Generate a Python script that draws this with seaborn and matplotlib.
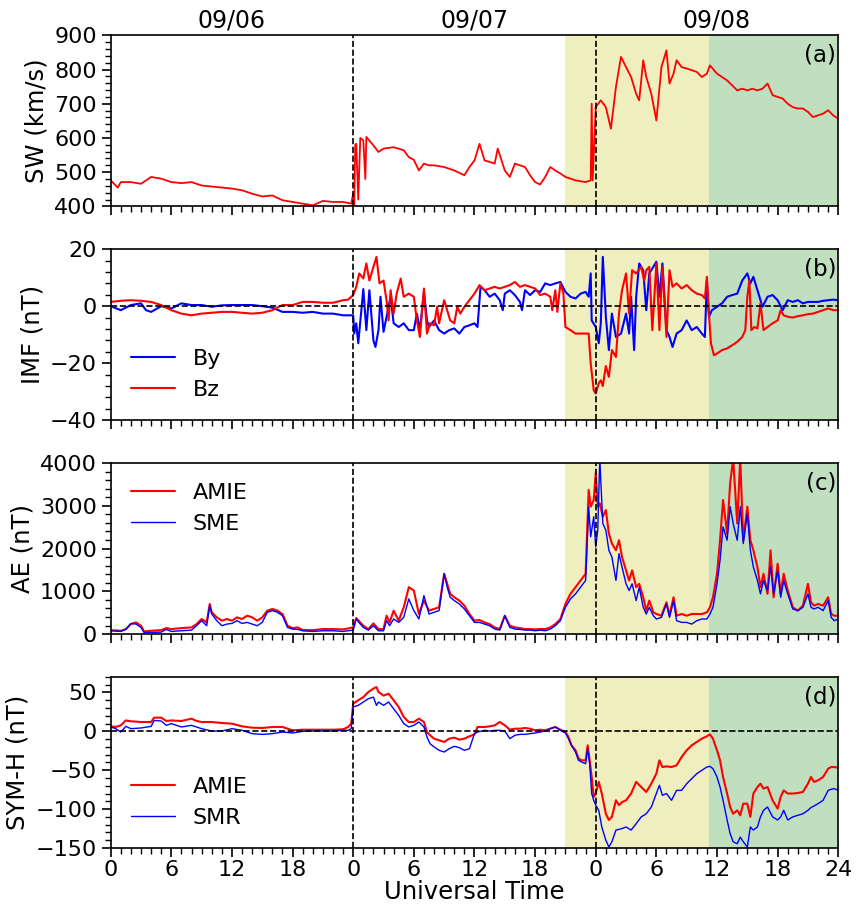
import numpy as np
import pandas as pd
import matplotlib
matplotlib.use("Agg")
import matplotlib.pyplot as plt
import seaborn as sns
from matplotlib.ticker import MultipleLocator

# ---- data (hours since 09/06 00 UT) ----
sw_hours = [0, 0.7, 1, 2, 3, 4, 5, 6, 7, 8, 9, 10, 11, 12, 13, 14, 15, 16, 17, 18, 19, 20, 21, 22, 23, 23.8,
            24, 24.1, 24.2, 24.3, 24.5, 24.7, 25, 25.2, 25.3, 26, 26.5, 27, 28, 29, 29.5, 30, 30.5, 31, 31.5,
            32, 33, 34, 35, 35.5, 36, 36.5, 37, 37.5, 38, 38.3, 39, 39.5, 40, 41, 41.5, 42, 42.5, 43, 43.5,
            44, 44.5, 45, 46, 47, 47.5, 47.6, 47.7, 48, 48.5, 49, 49.5, 50, 50.5, 51, 51.5, 52, 52.3, 52.7,
            53, 53.5, 54, 54.5, 55, 55.3, 55.7, 56, 56.5, 57, 57.5, 58, 58.5, 59, 59.3, 60, 60.5, 61, 61.5,
            62, 62.5, 63, 63.5, 64, 64.5, 65, 65.5, 66, 66.5, 67, 67.5, 68, 68.5, 69, 69.5, 70, 70.5, 71,
            71.5, 72]
sw_speed = [476, 455, 471, 471, 466, 486, 481, 471, 468, 471, 461, 458, 455, 452, 447, 437, 429, 432, 418,
            413, 408, 403, 416, 413, 413, 408, 437, 400, 580, 583, 420, 600, 593, 480, 603, 578, 559, 569,
            573, 564, 544, 536, 505, 525, 520, 520, 515, 505, 491, 515, 534, 583, 534, 530, 525, 569, 505,
            486, 525, 515, 491, 471, 464, 486, 515, 505, 496, 486, 476, 471, 476, 700, 476, 690, 710, 690,
            627, 749, 837, 807, 778, 729, 710, 827, 778, 729, 651, 807, 856, 759, 788, 827, 807, 803, 798,
            793, 778, 788, 812, 788, 778, 768, 754, 739, 744, 739, 744, 739, 744, 759, 725, 720, 715, 700,
            690, 686, 686, 676, 661, 666, 671, 681, 666, 656]

by_hours = [0, 1, 2, 3, 3.5, 4, 5, 6, 7, 8, 9, 10, 11, 12, 13, 14, 15, 16, 17, 18, 19, 20, 21, 22, 23, 24,
            24.1, 24.3, 24.5, 25, 25.3, 25.6, 26, 26.2, 26.5, 26.7, 27, 27.7, 28, 28.5, 29, 29.5, 30, 30.3,
            30.6, 31, 31.3, 31.5, 32, 32.5, 33, 33.5, 34, 34.5, 35, 35.5, 36, 36.3, 36.6, 37, 37.5, 38, 38.5,
            38.8, 39, 39.5, 40, 40.5, 40.7, 41, 41.5, 42, 42.5, 43, 43.5, 44, 44.5, 45, 45.5, 46, 46.5, 47,
            47.3, 47.5, 47.6, 48, 48.3, 48.5, 48.7, 49, 49.3, 49.6, 50, 50.5, 51, 51.3, 51.5, 51.8, 52, 52.3,
            52.7, 53, 53.3, 53.7, 54, 54.3, 54.6, 55, 55.3, 55.6, 56, 56.5, 57, 57.5, 58, 58.5, 58.8, 59,
            59.2, 59.5, 60, 60.5, 61, 61.5, 62, 62.5, 63, 63.3, 63.6, 64, 64.5, 65, 65.5, 66, 66.5, 67, 67.5,
            68, 68.5, 69, 69.5, 70, 70.5, 71, 71.5, 72]
by_nt = [0, -1.4, 0.4, 1, -1.4, -2, 0, -0.8, 1, 0.4, 0.4, -0.2, 0.3, 0.4, 0.4, 0.4, 0, -0.5, -2, -2, -2.3,
         -2, -2.6, -2.6, -3.2, -3.2, -9.6, -6, -13, 6, -8.4, 5.6, -12, -14.3, -8.4, 3.3, -9, 3.3, -6, -7.3,
         -6, -8.4, -8.4, -2.6, -8.4, 5, -5, -7.3, -5, -8.4, -9.6, -8.4, -7.8, -9.6, -7.3, -6.7, -6, -7.3,
         6.8, 5.6, 3.3, 4.4, 2.1, -1.4, 4.4, 5.6, 3.9, 1.5, -1.4, 5.6, 3.9, 5.6, 5, 8, 7.4, 8, 8.5, 5, 3.3,
         2.7, 4.4, 5, 3.3, 11.5, -5, -7.3, -13, -6, 17.3, -3.7, -15.4, -2.6, -10.8, -9.6, -2.6, -9.6, 3.3,
         -15.4, 3.3, 15, 12.6, -1.4, 11.5, 13.8, 15.6, 3.3, 15, -8.4, -10.8, -14.3, -9.6, -8.4, -5, -8.4,
         -7.3, -9.6, -10.8, 9, -3.7, -1.4, -0.2, 1, 3.3, 3.9, 4.4, 9, 11.5, 8, 10.3, 5.6, -0.2, 3.3, 3.9,
         2.1, -1.4, 2.1, 1.5, 2.1, 1, 1.5, 1.5, 1.5, 1.9, 2.1, 2.3, 2.1]

bz_hours = [0, 1, 2, 3, 4, 5, 6, 7, 8, 9, 10, 11, 12, 13, 14, 15, 16, 17, 18, 19, 20, 21, 22, 23, 23.5, 24,
            24.3, 24.6, 25, 25.3, 25.6, 26, 26.3, 26.6, 27, 27.3, 27.5, 27.7, 28, 28.3, 28.7, 29, 29.5, 30,
            30.3, 30.6, 31, 31.3, 31.6, 32, 32.3, 32.5, 33, 33.3, 33.6, 34, 34.3, 34.6, 35, 35.5, 36, 36.5,
            37, 37.5, 38, 38.5, 39, 39.5, 40, 40.5, 41, 41.5, 42, 42.5, 43, 43.5, 43.7, 44, 44.2, 44.5, 44.8,
            45, 45.5, 46, 46.5, 47, 47.3, 47.5, 47.8, 48, 48.3, 48.5, 48.7, 49, 49.3, 49.6, 50, 50.3, 50.6,
            51, 51.3, 51.6, 52, 52.5, 52.8, 53, 53.3, 53.6, 54, 54.3, 54.6, 55, 55.3, 55.6, 56, 56.5, 57,
            57.5, 58, 58.5, 58.8, 59, 59.2, 59.4, 59.7, 60, 60.5, 61, 61.5, 62, 62.5, 62.8, 63, 63.2, 63.4,
            63.7, 64, 64.3, 64.6, 65, 65.5, 66, 66.3, 66.6, 67, 67.5, 68, 68.5, 69, 69.5, 70, 70.5, 71, 71.5, 72]
bz_nt = [1.5, 1.9, 2.1, 1.9, 1.5, 0.4, -1.4, -2.6, -3.2, -2.6, -2.3, -2, -2, -2.3, -2.6, -2.3, -1.4, 0.4,
         0.4, 1.5, 1.5, 1.2, 1.2, 2.1, 2.3, 3.9, 6.8, 11.5, 9.7, 15, 9, 13.8, 17.3, 8, 9, 2, -5, 5.6, -2.6,
         4.4, 9.7, 3.3, 4.4, 3.3, -5, -10.8, 6.2, -9.6, -6, -6.7, -0.2, -6, 2.1, -1.4, -5, -6, -0.2, -2.6,
         -0.2, 2.1, 4.4, 7.4, 5.6, 6.2, 6.8, 6.2, 6.8, 7.4, 8.5, 6.8, 7.4, 6.8, 6.2, 3.9, 4.4, 3.3, -1.4,
         5.6, -2, 8, 4.4, -7.3, -8.4, -9.6, -9.6, -9.6, -9.6, -20, -29.5, -30.6, -27, -26, -28, -21, -24.8,
         -15.4, -17.8, -2.6, 5.6, 11.5, -2.6, 12.6, 11.5, 13.8, 9, 12.6, 13.8, -8.4, 15, -8.4, 13.8, -10.8,
         12.6, 6.8, 8, 6.2, 7.4, 5.6, 4.4, 3.9, 2.7, 10.3, -2.6, -13, -17.2, -16.6, -15.4, -14.8, -13.7,
         -12.5, -10.8, -8.4, 3.3, 9, -8.4, -7.3, -7.8, 1, -8.4, -7.3, -6, -5, -1.4, -3.2, -3.7, -4, -3.5,
         -3.2, -2.8, -2.6, -2, -1.4, -0.8, -1.4, -1.4]

ae_hours = [0, 1, 1.5, 2, 2.5, 3, 3.3, 4, 5, 5.5, 6, 7, 8, 8.5, 9, 9.5, 9.8, 10, 10.5, 11, 11.5, 12, 12.5,
            13, 13.5, 14, 14.5, 15, 15.5, 16, 16.5, 17, 17.5, 18, 18.5, 19, 20, 21, 22, 23, 24, 24.3, 24.7,
            25, 25.5, 26, 26.5, 27, 27.3, 27.6, 28, 28.5, 29, 29.5, 30, 30.5, 31, 31.5, 32, 32.5, 33, 33.3,
            33.6, 34, 34.5, 35, 35.5, 36, 36.5, 37, 37.5, 38, 38.5, 39, 39.5, 40, 40.5, 41, 41.5, 42, 42.5,
            43, 43.5, 44, 44.5, 45, 45.5, 46, 46.5, 47, 47.3, 47.5, 47.8, 48, 48.2, 48.4, 48.7, 49, 49.3,
            49.6, 50, 50.3, 50.6, 51, 51.3, 51.6, 52, 52.3, 52.7, 53, 53.3, 53.7, 54, 54.5, 55, 55.3, 55.7,
            56, 56.5, 57, 57.5, 58, 58.5, 59, 59.3, 59.6, 60, 60.3, 60.6, 61, 61.3, 61.6, 62, 62.3, 62.6, 63,
            63.3, 63.6, 64, 64.3, 64.6, 65, 65.3, 65.6, 66, 66.3, 66.6, 67, 67.5, 68, 68.5, 69, 69.3, 69.6,
            70, 70.5, 71, 71.3, 71.6, 72]
ae_amie = [94, 78, 118, 235, 274, 196, 63, 78, 94, 141, 118, 141, 157, 235, 353, 274, 705, 510, 392, 314,
           353, 314, 392, 353, 431, 392, 314, 392, 549, 588, 549, 470, 196, 141, 157, 94, 94, 118, 118, 110,
           157, 376, 274, 196, 118, 250, 118, 118, 431, 274, 549, 314, 627, 1098, 1019, 470, 784, 549, 588,
           627, 1411, 1176, 941, 862, 784, 666, 470, 314, 329, 274, 235, 157, 118, 431, 196, 157, 141, 118,
           118, 110, 118, 118, 157, 235, 353, 705, 941, 1098, 1254, 1411, 3371, 2979, 3136, 3763, 2979,
           3058, 2744, 2901, 2352, 2117, 1960, 2195, 1803, 1490, 1254, 1490, 1098, 1176, 862, 549, 784, 510,
           470, 431, 745, 431, 862, 431, 470, 431, 470, 470, 470, 510, 627, 862, 1411, 2195, 3136, 2352,
           3528, 4100, 2587, 4100, 2195, 2979, 2195, 1960, 1568, 1098, 1411, 941, 1960, 862, 1646, 941,
           1411, 1019, 627, 549, 666, 1176, 745, 666, 705, 666, 862, 470, 431, 431]
ae_sme = [78, 63, 110, 250, 235, 157, 39, 39, 47, 110, 63, 78, 94, 196, 314, 196, 666, 470, 314, 196, 235,
          250, 314, 250, 274, 235, 196, 274, 510, 549, 510, 431, 157, 118, 110, 78, 63, 78, 78, 63, 94, 353,
          235, 157, 94, 196, 78, 78, 314, 196, 353, 274, 392, 823, 549, 353, 900, 470, 510, 549, 1411, 1098,
          862, 784, 705, 588, 431, 274, 274, 235, 196, 118, 94, 431, 157, 118, 110, 94, 94, 78, 94, 78, 118,
          196, 314, 627, 823, 941, 1098, 1254, 2979, 2274, 2744, 2038, 2430, 4100, 2587, 2430, 1960, 1803,
          1254, 1882, 1568, 1176, 1019, 1176, 784, 1098, 627, 470, 627, 431, 353, 392, 705, 392, 784, 314,
          274, 274, 235, 314, 353, 353, 470, 627, 1176, 1725, 2509, 2195, 2979, 2587, 2195, 2979, 2117,
          2822, 1960, 1568, 1254, 941, 1254, 1019, 1568, 941, 1490, 862, 1254, 941, 588, 549, 627, 941, 627,
          588, 627, 549, 784, 392, 314, 353]

symh_hours = [0, 0.5, 1, 1.5, 2, 3, 4, 4.3, 5, 5.5, 6, 7, 8, 8.5, 9, 10, 11, 12, 13, 14, 15, 16, 17, 17.5,
              18, 19, 20, 21, 22, 23, 23.5, 23.8, 24, 24.5, 25, 25.5, 26, 26.3, 26.5, 27, 27.5, 28, 28.5, 29,
              29.5, 30, 30.5, 31, 31.3, 31.6, 32, 32.5, 33, 33.5, 34, 34.5, 35, 35.5, 36, 36.3, 37, 37.5, 38,
              38.5, 39, 39.5, 40, 40.5, 41, 41.5, 42, 42.5, 43, 43.5, 44, 44.5, 45, 45.3, 45.6, 46, 46.3,
              46.6, 47, 47.2, 47.4, 47.6, 47.8, 48, 48.3, 48.6, 49, 49.3, 49.6, 50, 50.3, 50.6, 51, 51.5, 52,
              52.5, 53, 53.5, 54, 54.3, 54.6, 55, 55.5, 56, 56.5, 57, 57.5, 58, 58.5, 59, 59.3, 59.6, 60,
              60.3, 60.6, 61, 61.3, 61.6, 62, 62.3, 62.6, 63, 63.3, 63.6, 64, 64.3, 64.6, 65, 65.5, 66, 66.3,
              66.6, 67, 67.5, 68, 68.5, 69, 69.3, 69.6, 70, 70.5, 71, 71.3, 71.6, 72]
symh_amie = [6.4, 5.6, 7.7, 14, 12.9, 12, 12, 17.6, 17.6, 13.3, 14, 13.3, 16.3, 13.3, 12, 12, 10.7, 9.9, 6.4,
             4.7, 4.3, 5.6, 5.6, 3.4, 1.3, 2.1, 2.1, 2.1, 2.1, 2.6, 5.6, 9.9, 35.6, 40, 44, 50.6, 55, 57,
             50.6, 46, 48.4, 40, 31.3, 18.4, 12, 12, 16.3, 12, -1, -5, -9.4, -11.6, -13.7, -9.4, -8.1, -10.7,
             -9.4, -6.4, -3.9, 5.6, 5.6, 6.4, 7.7, 12, 7.7, 2.1, 3.4, 3.4, 4.3, 3.4, 1.3, 2.1, 1.3, 3.4, 5.6,
             2.1, -0.9, -7.3, -18, -24.4, -35, -37.3, -37.3, -18, -37.3, -58.7, -84.4, -80, -65, -80, -106,
             -114, -110, -88.7, -95, -91, -88.7, -80, -65, -71.6, -78, -67.3, -54.4, -37.3, -45.9, -45,
             -45.9, -43.7, -33, -24.4, -18, -13.7, -9.4, -6.4, -3.9, -9.4, -24.4, -37.3, -58.7, -80, -97.3,
             -106, -101.6, -108, -93, -93, -110, -80, -71.6, -67.3, -73.7, -71.6, -88.7, -99.4, -84.4,
             -75.9, -80, -80, -79.3, -78, -67.3, -58.7, -65, -63, -58.7, -48, -45.9, -46, -46.7]
symh_smr = [5.6, 3.4, -0.9, 6.4, 3.4, 4.3, 6.4, 14, 13.3, 7.7, 9.9, 5.6, 7.7, 5.6, 3.4, 0.4, 0.4, 3.4, 1.3,
            -3, -3.9, -3, -0.9, -1.5, -2.1, 0, 0.4, 0.4, 0.4, 1.3, 1.3, 3.4, 31.3, 33.4, 37.7, 42, 44, 33.4,
            37.7, 33.4, 37.7, 29, 20.6, 9.9, 5.6, 7.7, 12, 5.6, -7.3, -15.9, -20, -24.4, -26.6, -22.3, -19.3,
            -21, -24.4, -22.3, -3, -0.9, 1.3, 0.4, 1.3, 1.3, 0.4, -9.4, -5.1, -3.9, -3.9, -3, -2.1, -0.9,
            0.4, 3.4, 5.6, 1.3, -2.1, -9.4, -18, -26.6, -37.3, -39.4, -41.6, -22.3, -41.6, -80, -88.7, -95,
            -101.6, -123, -140, -148.7, -142, -127, -126, -125, -123, -127, -118.7, -110, -106, -97.3, -80,
            -69.4, -82.3, -80, -88.7, -75.9, -75.9, -67.3, -60.9, -54.4, -50.1, -45.9, -45, -48, -58.7,
            -71.6, -88.7, -114, -131.6, -142, -144.5, -136, -142, -148.7, -123, -127, -123, -110, -101.6,
            -97.3, -110, -114, -110, -101.6, -114, -110, -108, -106, -101.6, -98, -96, -93, -88.7, -75.9,
            -74.5, -73.7, -75.9]

day_labels = ["09/06", "09/07", "09/08"]
hour_labels = ["0", "6", "12", "18", "0", "6", "12", "18", "0", "6", "12", "18", "24"]

sns.set_style("ticks", rc={"axes.edgecolor": "black", "text.color": "black",
                           "xtick.color": "black", "ytick.color": "black",
                           "axes.labelcolor": "black"})
plt.rcParams['font.family'] = ['DejaVu Sans']
plt.rcParams['font.size'] = 16

fig, axes = plt.subplots(4, 1, figsize=(8.58, 9.05), dpi=100, sharex=True)
fig.subplots_adjust(left=0.129, right=0.977, top=0.961, bottom=0.063, hspace=0.25)

for ax in axes:
    ax.axvspan(45, 59.2, color='y', alpha=0.25, lw=0, zorder=0)
    ax.axvspan(59.2, 72, color='g', alpha=0.25, lw=0, zorder=0)

# (a) solar wind speed
ax = axes[0]
sns.lineplot(x=sw_hours, y=sw_speed, ax=ax, color='red', linewidth=1.3, estimator=None, sort=False)
ax.set_ylim(400, 900)
ax.yaxis.set_major_locator(MultipleLocator(100))
ax.yaxis.set_minor_locator(MultipleLocator(20))
ax.set_ylabel("SW (km/s)", fontsize=17.5)
for i, lab in enumerate(day_labels):
    ax.text(12 + 24 * i, 1.047, lab, transform=ax.get_xaxis_transform(), ha='center', va='baseline',
            fontsize=17)

# (b) IMF
ax = axes[1]
sns.lineplot(x=by_hours, y=by_nt, ax=ax, color='blue', linewidth=1.5, estimator=None, sort=False, label='By')
sns.lineplot(x=bz_hours, y=bz_nt, ax=ax, color='red', linewidth=1.5, estimator=None, sort=False, label='Bz')
ax.axhline(0, color='k', ls='--', lw=1.2)
ax.set_ylim(-40, 20)
ax.yaxis.set_major_locator(MultipleLocator(20))
ax.yaxis.set_minor_locator(MultipleLocator(4))
ax.set_ylabel("IMF (nT)", fontsize=17.5)
ax.legend(loc='lower left', frameon=False, fontsize=16)

# (c) AE
ax = axes[2]
sns.lineplot(x=ae_hours, y=ae_amie, ax=ax, color='red', linewidth=1.5, estimator=None, sort=False, label='AMIE')
sns.lineplot(x=ae_hours, y=ae_sme, ax=ax, color='blue', linewidth=1.0, estimator=None, sort=False, label='SME')
ax.set_ylim(0, 4000)
ax.yaxis.set_major_locator(MultipleLocator(1000))
ax.yaxis.set_minor_locator(MultipleLocator(200))
ax.set_ylabel("AE (nT)", fontsize=17.5)
ax.legend(loc='upper left', frameon=False, fontsize=16)

# (d) SYM-H
ax = axes[3]
sns.lineplot(x=symh_hours, y=symh_amie, ax=ax, color='red', linewidth=1.5, estimator=None, sort=False, label='AMIE')
sns.lineplot(x=symh_hours, y=symh_smr, ax=ax, color='blue', linewidth=1.0, estimator=None, sort=False, label='SMR')
ax.axhline(0, color='k', ls='--', lw=1.2)
ax.set_ylim(-150, 70)
ax.yaxis.set_major_locator(MultipleLocator(50))
ax.yaxis.set_minor_locator(MultipleLocator(10))
ax.set_ylabel("SYM-H (nT)", fontsize=17.5)
ax.legend(loc='lower left', frameon=False, fontsize=16)
ax.set_xlabel("Universal Time", fontsize=17.5, labelpad=-0.5)

for ax, tag in zip(axes, ["(a)", "(b)", "(c)", "(d)"]):
    ax.axvline(24, color='k', ls='--', lw=1.2)
    ax.axvline(48, color='k', ls='--', lw=1.2)
    ax.set_xlim(0, 72)
    ax.set_xticks(np.arange(0, 73, 6))
    ax.xaxis.set_minor_locator(MultipleLocator(1))
    ax.tick_params(which='major', direction='out', length=6.5, width=1.2, labelsize=16)
    ax.tick_params(axis='x', which='major', pad=2.5)
    ax.tick_params(which='minor', direction='out', length=4, width=1.0)
    for s in ax.spines.values():
        s.set_linewidth(1.2)
    ax.text(0.997, 0.95, tag, transform=ax.transAxes, ha='right', va='top', fontsize=16.5)

axes[3].set_xticklabels(hour_labels)

fig.savefig("out.png", dpi=100)
